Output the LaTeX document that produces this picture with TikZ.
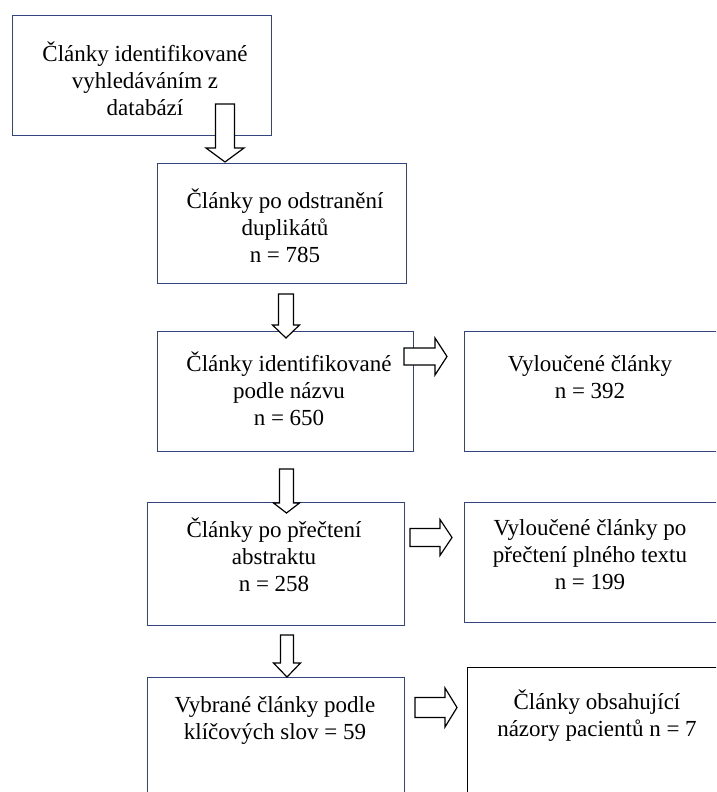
\documentclass[tikz,border=0pt]{standalone}
\usepackage{fontspec}
\setmainfont{Liberation Serif}
\definecolor{boxblue}{RGB}{52,68,128}
\newcommand\vbarrow[6]{\draw[blk] (#1-#5,#2) -- (#1+#5,#2) -- (#1+#5,#3) -- (#1+#6,#3) -- (#1,#4) -- (#1-#6,#3) -- (#1-#5,#3) -- cycle;}
\newcommand\hbarrow[6]{\draw[blk] (#1,#4-#5) -- (#2,#4-#5) -- (#2,#4-#6) -- (#3,#4) -- (#2,#4+#6) -- (#2,#4+#5) -- (#1,#4+#5) -- cycle;}
\begin{document}
\begin{tikzpicture}[x=1pt,y=-1pt,
  box/.style={draw=boxblue, line width=1.4pt, inner sep=0pt, anchor=north west},
  txt/.style={align=center, font=\fontsize{23}{27}\selectfont, inner sep=0pt},
  blk/.style={draw=black, line width=1.2pt, fill=white, line join=miter}]
\useasboundingbox (0,0) rectangle (716,792);
\clip (0,0) rectangle (716,792);
\fill[white] (0,0) rectangle (716,792);
% boxes
\node[box, minimum width=259pt, minimum height=120pt] (b1) at (12,15) {};
\node[box, minimum width=249pt, minimum height=120pt] (b2) at (157,163) {};
\node[box, minimum width=256pt, minimum height=120pt] (b3) at (157,331) {};
\node[box, minimum width=262pt, minimum height=120pt] (b4) at (464,331) {};
\node[box, minimum width=257pt, minimum height=123pt] (b5) at (147,502) {};
\node[box, minimum width=262pt, minimum height=120pt] (b6) at (464,502) {};
\node[box, minimum width=257pt, minimum height=140pt] (b7) at (147,677) {};
\node[box, draw=black, minimum width=265pt, minimum height=150pt] (b8) at (467,667) {};
% block arrows
\vbarrow{225}{104}{148}{162}{9.5}{19}
\vbarrow{286}{294}{325}{338}{7.5}{13.5}
\vbarrow{286.5}{469}{503}{513}{7}{13}
\vbarrow{287}{635}{663}{677}{6.5}{13.5}
\hbarrow{404}{435}{447}{356.5}{8.5}{18.5}
\hbarrow{410}{440}{452}{537.5}{9}{18}
\hbarrow{415}{445}{457}{707.5}{10}{19.5}
% texts
\node[txt] (t1) at (145,79) {Články identifikované\\vyhledáváním z\\databází};
\node[txt] (t2) at (285,226) {Články po odstranění\\duplikátů\\n = 785};
\node[txt] (t3) at (289,389) {Články identifikované\\podle názvu\\n = 650};
\node[txt] (t4) at (590,377) {Vyloučené články\\n = 392};
\node[txt] (t5) at (274,555) {Články po přečtení\\abstraktu\\n = 258};
\node[txt] (t6) at (590,555) {Vyloučené články po\\přečtení plného textu\\n = 199};
\node[txt] (t7) at (275,720) {Vybrané články podle\\klíčových slov = 59};
\node[txt] (t8) at (597,716) {Články obsahující\\názory pacientů n = 7};
\end{tikzpicture}
\end{document}
